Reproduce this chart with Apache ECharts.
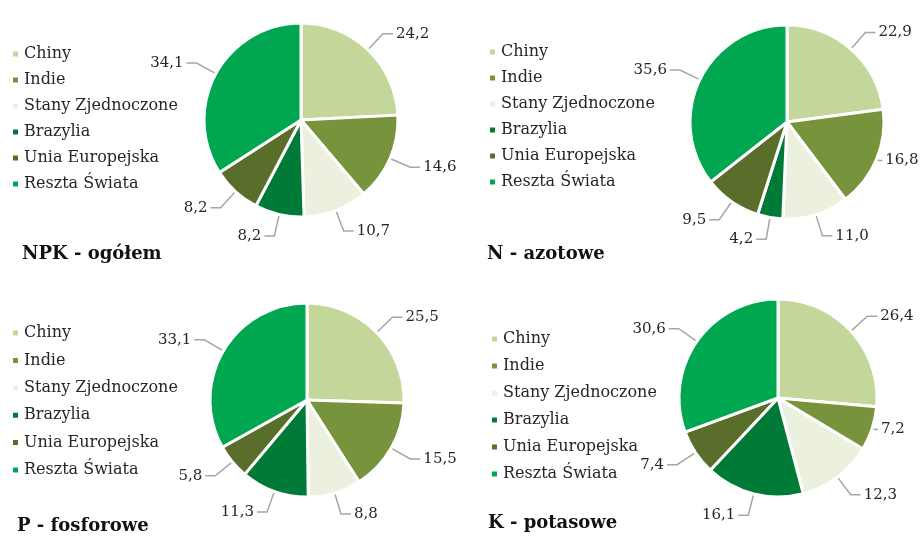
<!DOCTYPE html>
<html>
<head>
<meta charset="utf-8">
<script src="https://cdn.jsdelivr.net/npm/echarts@6/dist/echarts.min.js"></script>
<style>
  html, body { margin: 0; padding: 0; background: #fff; }
  #main { width: 924px; height: 536px; }
</style>
</head>
<body>
<div id="main"></div>
<script>
// kategorie (kraje)
var countries = ['Chiny', 'Indie', 'Stany Zjednoczone', 'Brazylia', 'Unia Europejska', 'Reszta Świata'];
// udziały w %
var npkValues = [24.2, 14.6, 10.7, 8.2, 8.2, 34.1];
var nValues = [22.9, 16.8, 11.0, 4.2, 9.5, 35.6];
var pValues = [25.5, 15.5, 8.8, 11.3, 5.8, 33.1];
var kValues = [26.4, 7.2, 12.3, 16.1, 7.4, 30.6];
var titles = ['NPK - ogółem', 'N - azotowe', 'P - fosforowe', 'K - potasowe'];

var colors = ['#c4d79b', '#77933c', '#ebf1de', '#007a37', '#5a6e2c', '#00a650'];
var font = '"DejaVu Serif", "Liberation Serif", serif';

var myChart = echarts.init(document.getElementById('main'));

// krótsze linie etykiet przy prawej krawędzi (indeks kraju)
function makePie(values, center, radius, shortIdx) {
  var data = [];
  for (var i = 0; i < countries.length; i++) {
    var item = {name: countries[i], value: values[i]};
    if (i === shortIdx) {
      item.labelLine = {length: 3, length2: 3};
    }
    data.push(item);
  }
  return {
    type: 'pie',
    center: center,
    radius: radius,
    startAngle: 90,
    clockwise: true,
    animation: false,
    avoidLabelOverlap: true,
    itemStyle: {borderColor: '#fff', borderWidth: 3},
    label: {
      show: true,
      position: 'outside',
      color: '#262626',
      fontFamily: font,
      fontSize: 15,
      overflow: 'none',
      bleedMargin: 0,
      distanceToLabelLine: 3,
      formatter: function (p) { return p.value.toFixed(1).replace('.', ','); }
    },
    labelLine: {
      show: true,
      length: 22,
      length2: 10,
      lineStyle: {color: '#a6a6a6', width: 1.5}
    },
    emphasis: {disabled: true},
    data: data
  };
}

function makeLegend(left, top, gap) {
  return {
    orient: 'vertical',
    left: left,
    top: top,
    padding: 0,
    icon: 'rect',
    itemWidth: 7,
    itemHeight: 7,
    itemGap: gap,
    textStyle: {fontFamily: font, fontSize: 16, color: '#262626', lineHeight: 16},
    data: countries
  };
}

function makeTitle(text, left, top) {
  return {
    text: text, left: left, top: top, padding: 0,
    textStyle: {fontFamily: font, fontSize: 18, fontWeight: 'bold', color: '#111'}
  };
}

var option = {
  color: colors,
  title: [
    makeTitle(titles[0], 22, 245),
    makeTitle(titles[1], 487, 245),
    makeTitle(titles[2], 17, 517),
    makeTitle(titles[3], 488, 514)
  ],
  legend: [
    makeLegend(11, 46, 10),
    makeLegend(488, 44, 10),
    makeLegend(11, 325, 11.4),
    makeLegend(490, 331, 11)
  ],
  series: [
    makePie(npkValues, [301, 120], 97, -1),
    makePie(nValues, [787, 122], 97, 1),
    makePie(pValues, [307, 400], 97, -1),
    makePie(kValues, [778, 398], 99, 1)
  ]
};

myChart.setOption(option);
</script>
</body>
</html>
